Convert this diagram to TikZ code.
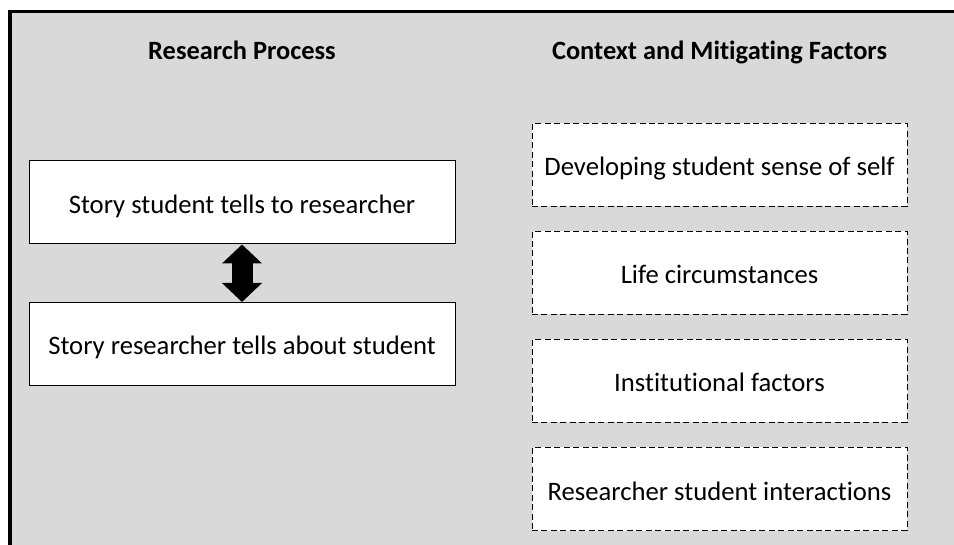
\documentclass[tikz,border=0pt]{standalone}
\usepackage{fontspec}
\setmainfont{Carlito}[Ligatures={NoCommon}]
\usepackage{tikz}
\usetikzlibrary{arrows.meta, positioning}
\definecolor{panelgray}{RGB}{217,217,217}

\begin{document}
\begin{tikzpicture}[
    x=0.75pt, y=-0.75pt,
    heading/.style={font=\fontsize{19.8}{23}\selectfont\bfseries, anchor=base},
    processbox/.style={draw, line width=0.75pt, fill=white, minimum width=426*0.75pt, minimum height=83*0.75pt, text height=16.5pt, text depth=0pt, font=\fontsize{20}{24}\selectfont, align=center, inner sep=0pt},
    factorbox/.style={processbox, dash pattern=on 4.5pt off 2.6pt, minimum width=375*0.75pt},
    bigarrow/.style={line width=21*0.75pt, {Triangle[length=19*0.75pt, width=39*0.75pt]}-{Triangle[length=19*0.75pt, width=39*0.75pt]}}
]
    \useasboundingbox (0,0) rectangle (954,545);
    \clip (0,0) rectangle (954,545);

    % Panel
    \fill[white] (0,0) rectangle (954,545);
    \draw[line width=2.6pt, fill=panelgray] (10,600) -- (10,11.5) -- (1000,11.5) -- (1000,600) -- cycle;

    % Headings
    \node[heading] (hproc) at (242,60) {Research Process};
    \node[heading] (hctx) at (719.5,60) {Context and Mitigating Factors};

    % Research process
    \node[processbox] (told) at (242,202.5) {Story student tells to researcher};
    \node[processbox] (about) at (242,344) {Story researcher tells about student};
    \draw[bigarrow] (told.south) -- (about.north);

    % Context and mitigating factors
    \node[factorbox] (self) at (719.5,165) {Developing student sense of self};
    \node[factorbox, below=24*0.75pt of self] (life) {Life circumstances};
    \node[factorbox, below=24*0.75pt of life] (inst) {Institutional factors};
    \node[factorbox, below=24*0.75pt of inst] (inter) {Researcher student interactions};
\end{tikzpicture}
\end{document}
